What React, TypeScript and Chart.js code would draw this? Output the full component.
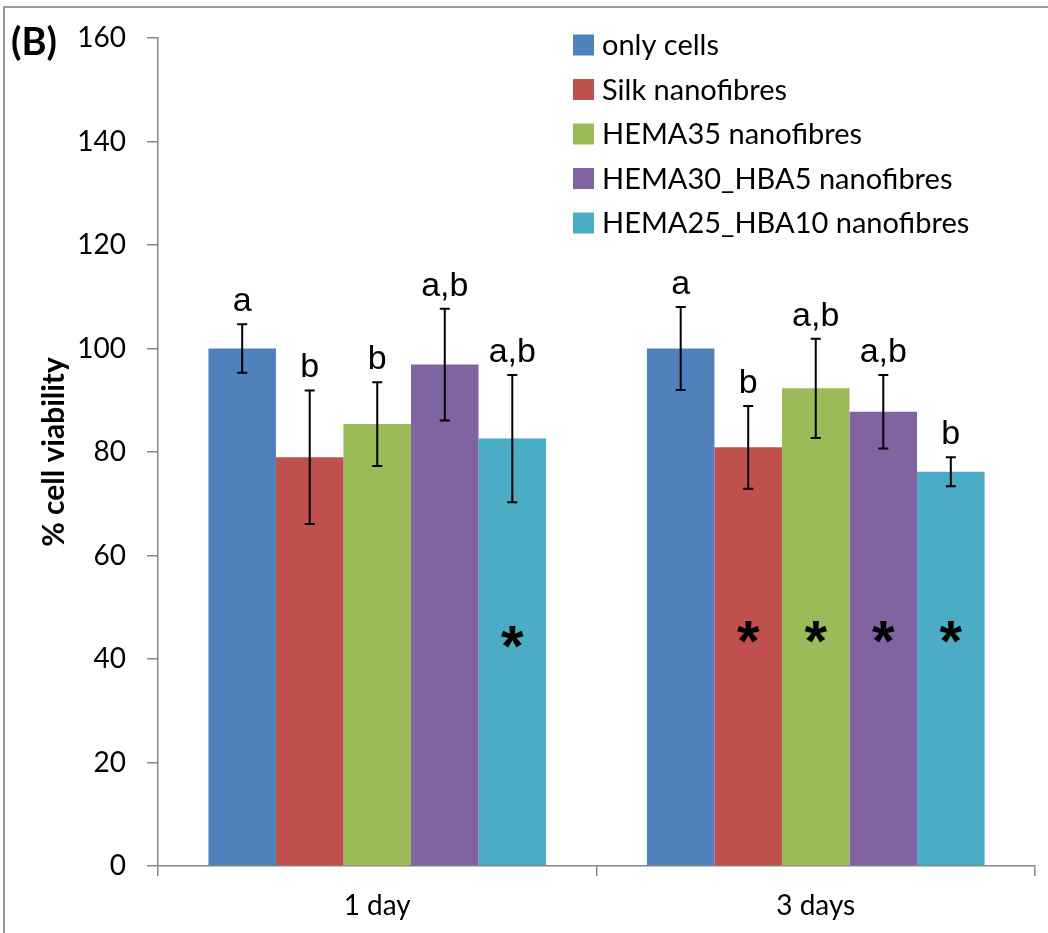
import React, { useEffect, useRef } from 'react';
import { Chart, registerables } from 'chart.js';

Chart.register(...registerables);

const categories = ['1 day', '3 days'];
const seriesNames = [
  'only cells',
  'Silk nanofibres',
  'HEMA35 nanofibres',
  'HEMA30_HBA5 nanofibres',
  'HEMA25_HBA10 nanofibres',
];
const seriesColors = ['#4F81BD', '#C0504D', '#9BBB59', '#8064A2', '#4BACC6'];

const onlyCells = [100, 100];
const silk = [79.0, 80.9];
const hema35 = [85.4, 92.3];
const hema30Hba5 = [96.9, 87.8];
const hema25Hba10 = [82.6, 76.2];

const onlyCellsErr = [4.7, 8.0];
const silkErr = [12.9, 8.0];
const hema35Err = [8.1, 9.6];
const hema30Hba5Err = [10.8, 7.1];
const hema25Hba10Err = [12.3, 2.8];

const onlyCellsLetters = ['a', 'a'];
const silkLetters = ['b', 'b'];
const hema35Letters = ['b', 'a,b'];
const hema30Hba5Letters = ['a,b', 'a,b'];
const hema25Hba10Letters = ['a,b', 'b'];

const onlyCellsStar = [false, false];
const silkStar = [false, true];
const hema35Star = [false, true];
const hema30Hba5Star = [false, true];
const hema25Hba10Star = [true, true];
const starLevel = [44.2, 45.2];

const yMin = 0;
const yMax = 160;
const yStep = 20;

const seriesValues = [onlyCells, silk, hema35, hema30Hba5, hema25Hba10];
const seriesErrors = [onlyCellsErr, silkErr, hema35Err, hema30Hba5Err, hema25Hba10Err];
const seriesLetters = [onlyCellsLetters, silkLetters, hema35Letters, hema30Hba5Letters, hema25Hba10Letters];
const seriesStars = [onlyCellsStar, silkStar, hema35Star, hema30Hba5Star, hema25Hba10Star];

const AXIS_GRAY = '#868686';

const framePlugin = {
  id: 'frame',
  beforeDraw(chart: any) {
    const { ctx, width, height } = chart;
    ctx.save();
    ctx.fillStyle = '#ffffff';
    ctx.fillRect(0, 0, width, height);
    ctx.strokeStyle = '#999999';
    ctx.lineWidth = 2;
    ctx.beginPath();
    ctx.moveTo(4, height);
    ctx.lineTo(4, 7);
    ctx.lineTo(width, 7);
    ctx.stroke();
    ctx.fillStyle = '#000000';
    ctx.font = 'bold 38px Lato';
    ctx.textBaseline = 'alphabetic';
    ctx.textAlign = 'left';
    ctx.fillText('(B)', 11, 55);
    ctx.restore();
  },
};

const annotationPlugin = {
  id: 'annotations',
  afterDatasetsDraw(chart: any) {
    const { ctx } = chart;
    const yScale = chart.scales.y;
    ctx.save();
    seriesValues.forEach((vals, i) => {
      const meta = chart.getDatasetMeta(i);
      meta.data.forEach((el: any, j: number) => {
        const x = el.x;
        const v = vals[j];
        const e = seriesErrors[i][j];
        const yT = yScale.getPixelForValue(v + e);
        const yB = yScale.getPixelForValue(v - e);
        ctx.strokeStyle = '#000000';
        ctx.lineWidth = 2;
        ctx.beginPath();
        ctx.moveTo(x, yT);
        ctx.lineTo(x, yB);
        ctx.moveTo(x - 5, yT);
        ctx.lineTo(x + 5, yT);
        ctx.moveTo(x - 5, yB);
        ctx.lineTo(x + 5, yB);
        ctx.stroke();

        ctx.fillStyle = '#000000';
        ctx.font = '34px "Liberation Sans"';
        ctx.textAlign = 'center';
        ctx.textBaseline = 'alphabetic';
        ctx.fillText(seriesLetters[i][j], x, yT - 13);

        if (seriesStars[i][j]) {
          ctx.font = 'bold 58px "Liberation Sans"';
          const m = ctx.measureText('*');
          const cy = yScale.getPixelForValue(starLevel[j]);
          const asc = m.actualBoundingBoxAscent;
          const desc = m.actualBoundingBoxDescent;
          const baseline = cy + (asc - desc) / 2;
          ctx.fillText('*', x, baseline);
        }
      });
    });
    ctx.restore();
  },
};

const legendPlugin = {
  id: 'customLegend',
  afterDraw(chart: any) {
    const { ctx } = chart;
    ctx.save();
    const x0 = 573;
    const y0 = 45;
    const dy = 44.5;
    seriesNames.forEach((name, i) => {
      const cy = y0 + i * dy;
      ctx.fillStyle = seriesColors[i];
      ctx.fillRect(x0, cy - 10.5, 21, 21);
      ctx.fillStyle = '#000000';
      ctx.font = '29px Lato';
      ctx.textAlign = 'left';
      ctx.textBaseline = 'middle';
      ctx.fillText(name, x0 + 29, cy + 1);
    });
    ctx.restore();
  },
};

export default function App() {
  const canvasRef = useRef<HTMLCanvasElement | null>(null);

  useEffect(() => {
    document.body.style.margin = '0';
    const canvas = canvasRef.current;
    if (!canvas) return;
    const chart = new Chart(canvas, {
      type: 'bar',
      data: {
        labels: categories,
        datasets: seriesNames.map((name, i) => ({
          label: name,
          data: seriesValues[i],
          backgroundColor: seriesColors[i],
          borderWidth: 0,
          barPercentage: 1,
          categoryPercentage: 0.77,
        })),
      },
      options: {
        responsive: false,
        animation: false,
        devicePixelRatio: 1,
        layout: { padding: { top: 38, right: 13, left: 0, bottom: 0 } },
        plugins: {
          legend: { display: false },
          tooltip: { enabled: false },
          title: { display: false },
        },
        scales: {
          x: {
            grid: {
              display: true,
              offset: true,
              drawOnChartArea: false,
              drawTicks: true,
              tickLength: 10,
              color: AXIS_GRAY,
              lineWidth: 1.5,
            },
            border: { display: true, color: AXIS_GRAY, width: 1.5 },
            ticks: {
              color: '#000000',
              font: { family: 'Lato', size: 28 },
              padding: 13,
            },
            afterFit(scale: any) {
              scale.height = 67;
            },
          },
          y: {
            min: yMin,
            max: yMax,
            ticks: {
              stepSize: yStep,
              color: '#000000',
              font: { family: 'Lato', size: 28 },
              padding: 21,
            },
            grid: {
              display: true,
              drawOnChartArea: false,
              drawTicks: true,
              tickLength: 11,
              color: AXIS_GRAY,
              lineWidth: 1.5,
            },
            border: { display: true, color: AXIS_GRAY, width: 1.5 },
            title: {
              display: true,
              text: '% cell viability',
              color: '#000000',
              font: { family: 'Lato', size: 30, weight: 'bold' },
              padding: { top: 36, bottom: 0 },
            },
            afterFit(scale: any) {
              scale.width = 158;
            },
          },
        },
      },
      plugins: [framePlugin, annotationPlugin, legendPlugin],
    });
    return () => chart.destroy();
  }, []);

  return (
    <canvas
      ref={canvasRef}
      width={1048}
      height={933}
      style={{ display: 'block', width: '1048px', height: '933px' }}
    />
  );
}
